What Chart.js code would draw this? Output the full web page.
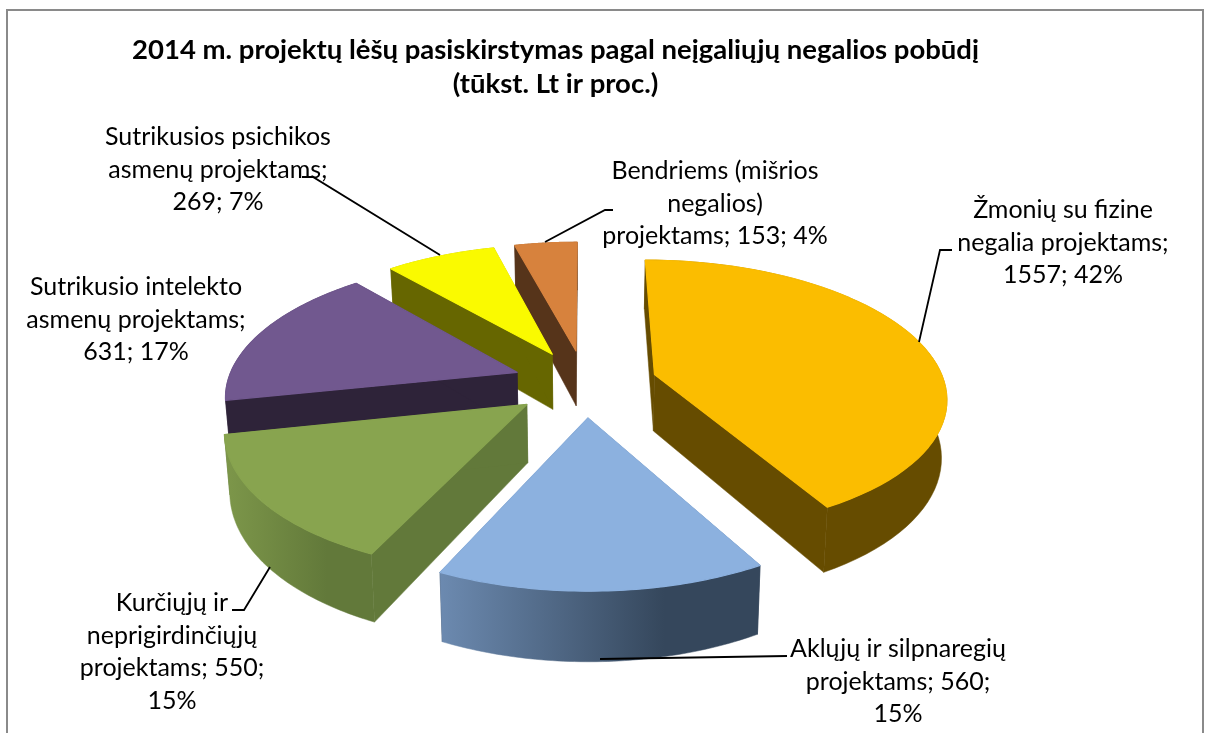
<!DOCTYPE html>
<html>
<head>
<meta charset="utf-8">
<style>
  html, body { margin: 0; padding: 0; background: #fff; overflow: hidden; }
  canvas { display: block; }
</style>
<script src="https://cdn.jsdelivr.net/npm/chart.js@4/dist/chart.umd.min.js"></script>
</head>
<body>
<canvas id="pieChart" width="1205" height="733"></canvas>
<script>
  const titleLines = ['2014 m. projektų lėšų pasiskirstymas pagal neįgaliųjų negalios pobūdį', '(tūkst. Lt ir proc.)'];
  const categories = [
    'Žmonių su fizine negalia projektams',
    'Aklųjų ir silpnaregių projektams',
    'Kurčiųjų ir neprigirdinčiųjų projektams',
    'Sutrikusio intelekto asmenų projektams',
    'Sutrikusios psichikos asmenų projektams',
    'Bendriems (mišrios negalios) projektams'
  ];
  const values = [1557, 560, 550, 631, 269, 153];
  const labelLines = [
    ['Žmonių su fizine', 'negalia projektams;', '1557; 42%'],
    ['Aklųjų ir silpnaregių', 'projektams; 560;', '15%'],
    ['Kurčiųjų ir', 'neprigirdinčiųjų', 'projektams; 550;', '15%'],
    ['Sutrikusio intelekto', 'asmenų projektams;', '631; 17%'],
    ['Sutrikusios psichikos', 'asmenų projektams;', '269; 7%'],
    ['Bendriems (mišrios', 'negalios)', 'projektams; 153; 4%']
  ];

  const topColors = ['#FBBD00', '#8CB1DF', '#88A44F', '#71588F', '#FAFA00', '#D7823D'];
  const cutColors = ['#664C00', '#35475C', '#62793A', '#2E2339', '#666600', '#56341A'];
  const wallStops = [
    ['#664C00', '#664C00'],
    ['#6C8AB0', '#35475C'],
    ['#7D974A', '#62793A'],
    ['#2E2339', '#2E2339'],
    ['#666600', '#666600'],
    ['#56341A', '#56341A']
  ];

  // label layout: centre x, first line y
  const labelX = [1063, 898, 172, 136, 218, 715];
  const labelY = [210, 649, 603, 287, 137, 171];
  const lineGap = 32.6;
  const leaders = [
    [[919, 342], [940, 250], [952, 250]],
    [[600, 659], [787, 656]],
    [[270, 567], [244, 610], [232, 610]],
    [],
    [[440, 255], [313, 177], [302, 177]],
    [[545, 242], [605, 210], [613, 210]]
  ];

  // view of the pie plane, fitted on the picture
  const view = { cx: 585, cy: 383, sx: 290, sy: 134.5, k: 0.154, depth: 57, shrink: 0.985 };

  function project(u, v, down) {
    const s = 1 / (1 + view.k * v);
    const x = view.sx * u * s;
    const y = view.sy * v * s;
    if (!down) return [view.cx + x, view.cy - y];
    return [view.cx + x * view.shrink, view.cy - y + view.depth * s];
  }

  function poly(ctx, pts, fill, edge) {
    ctx.beginPath();
    pts.forEach((p, i) => (i ? ctx.lineTo(p[0], p[1]) : ctx.moveTo(p[0], p[1])));
    ctx.closePath();
    ctx.fillStyle = fill;
    ctx.fill();
    ctx.strokeStyle = fill;
    ctx.lineWidth = edge;
    ctx.stroke();
  }

  function drawSlice(ctx, arc, idx) {
    const p = arc.getProps(['startAngle', 'endAngle', 'outerRadius']);
    const r = p.outerRadius;
    const mid = (p.startAngle + p.endAngle) / 2;
    // ArcElement moves a slice by offset / 4
    const shift = (arc.options.offset || 0) / 4 / r;
    const au = Math.cos(mid) * shift;
    const av = -Math.sin(mid) * shift;

    const topRim = [];
    const lowRim = [];
    const steps = 60;
    for (let i = 0; i <= steps; i++) {
      const a = p.startAngle + (p.endAngle - p.startAngle) * i / steps;
      const u = au + Math.cos(a);
      const v = av - Math.sin(a);
      topRim.push(project(u, v, false));
      lowRim.push(project(u, v, true));
    }
    const apexTop = project(au, av, false);
    const apexLow = project(au, av, true);

    poly(ctx, [apexTop, topRim[0], lowRim[0], apexLow], cutColors[idx], 0.5);
    poly(ctx, [apexTop, topRim[steps], lowRim[steps], apexLow], cutColors[idx], 0.5);

    const xs = topRim.map((q) => q[0]);
    const grad = ctx.createLinearGradient(Math.min(...xs), 0, Math.max(...xs), 0);
    grad.addColorStop(0, wallStops[idx][0]);
    grad.addColorStop(0.7, wallStops[idx][1]);
    grad.addColorStop(1, wallStops[idx][1]);
    // no stroke here, it would show round the top face
    poly(ctx, topRim.concat(lowRim.slice().reverse()), grad, 0);

    poly(ctx, [apexTop].concat(topRim), topColors[idx], 1.2);
  }

  const framePlugin = {
    id: 'frame',
    beforeDraw(chart) {
      const ctx = chart.ctx;
      ctx.save();
      ctx.strokeStyle = '#8a8a8a';
      ctx.lineWidth = 2;
      ctx.strokeRect(7, 10, 1196, 800);
      ctx.restore();
    }
  };

  const pie3dPlugin = {
    id: 'pie3d',
    // slices are taken from the library's arcs and drawn tilted, far ones first
    beforeDatasetsDraw(chart) {
      const ctx = chart.ctx;
      const arcs = chart.getDatasetMeta(0).data;
      const order = arcs.map((arc, i) => i).sort((a, b) => {
        const ma = (arcs[a].startAngle + arcs[a].endAngle) / 2;
        const mb = (arcs[b].startAngle + arcs[b].endAngle) / 2;
        return Math.sin(ma) - Math.sin(mb);
      });
      ctx.save();
      ctx.lineJoin = 'round';
      order.forEach((i) => drawSlice(ctx, arcs[i], i));
      ctx.restore();
      return false;
    },
    afterDraw(chart) {
      const ctx = chart.ctx;
      ctx.save();
      ctx.strokeStyle = '#000';
      ctx.lineWidth = 1.8;
      leaders.forEach((pts) => {
        if (!pts.length) return;
        ctx.beginPath();
        pts.forEach((q, i) => (i ? ctx.lineTo(q[0], q[1]) : ctx.moveTo(q[0], q[1])));
        ctx.stroke();
      });
      ctx.fillStyle = '#000';
      ctx.font = '25px Lato';
      ctx.textAlign = 'center';
      ctx.textBaseline = 'middle';
      labelLines.forEach((lines, i) => {
        lines.forEach((line, n) => ctx.fillText(line, labelX[i], labelY[i] + n * lineGap));
      });
      ctx.restore();
    }
  };

  new Chart(document.getElementById('pieChart'), {
    type: 'pie',
    data: {
      labels: categories,
      datasets: [{ data: values, backgroundColor: topColors, offset: 100, borderWidth: 0 }]
    },
    options: {
      responsive: false,
      animation: false,
      radius: 100,
      layout: { padding: { left: 8, right: 102, top: 23 } },
      plugins: {
        legend: { display: false },
        tooltip: { enabled: false },
        title: {
          display: true,
          text: titleLines,
          color: '#000',
          font: { family: 'Lato', size: 27.5, weight: 'bold', lineHeight: 1.24 }
        }
      }
    },
    plugins: [framePlugin, pie3dPlugin]
  });
</script>
</body>
</html>
